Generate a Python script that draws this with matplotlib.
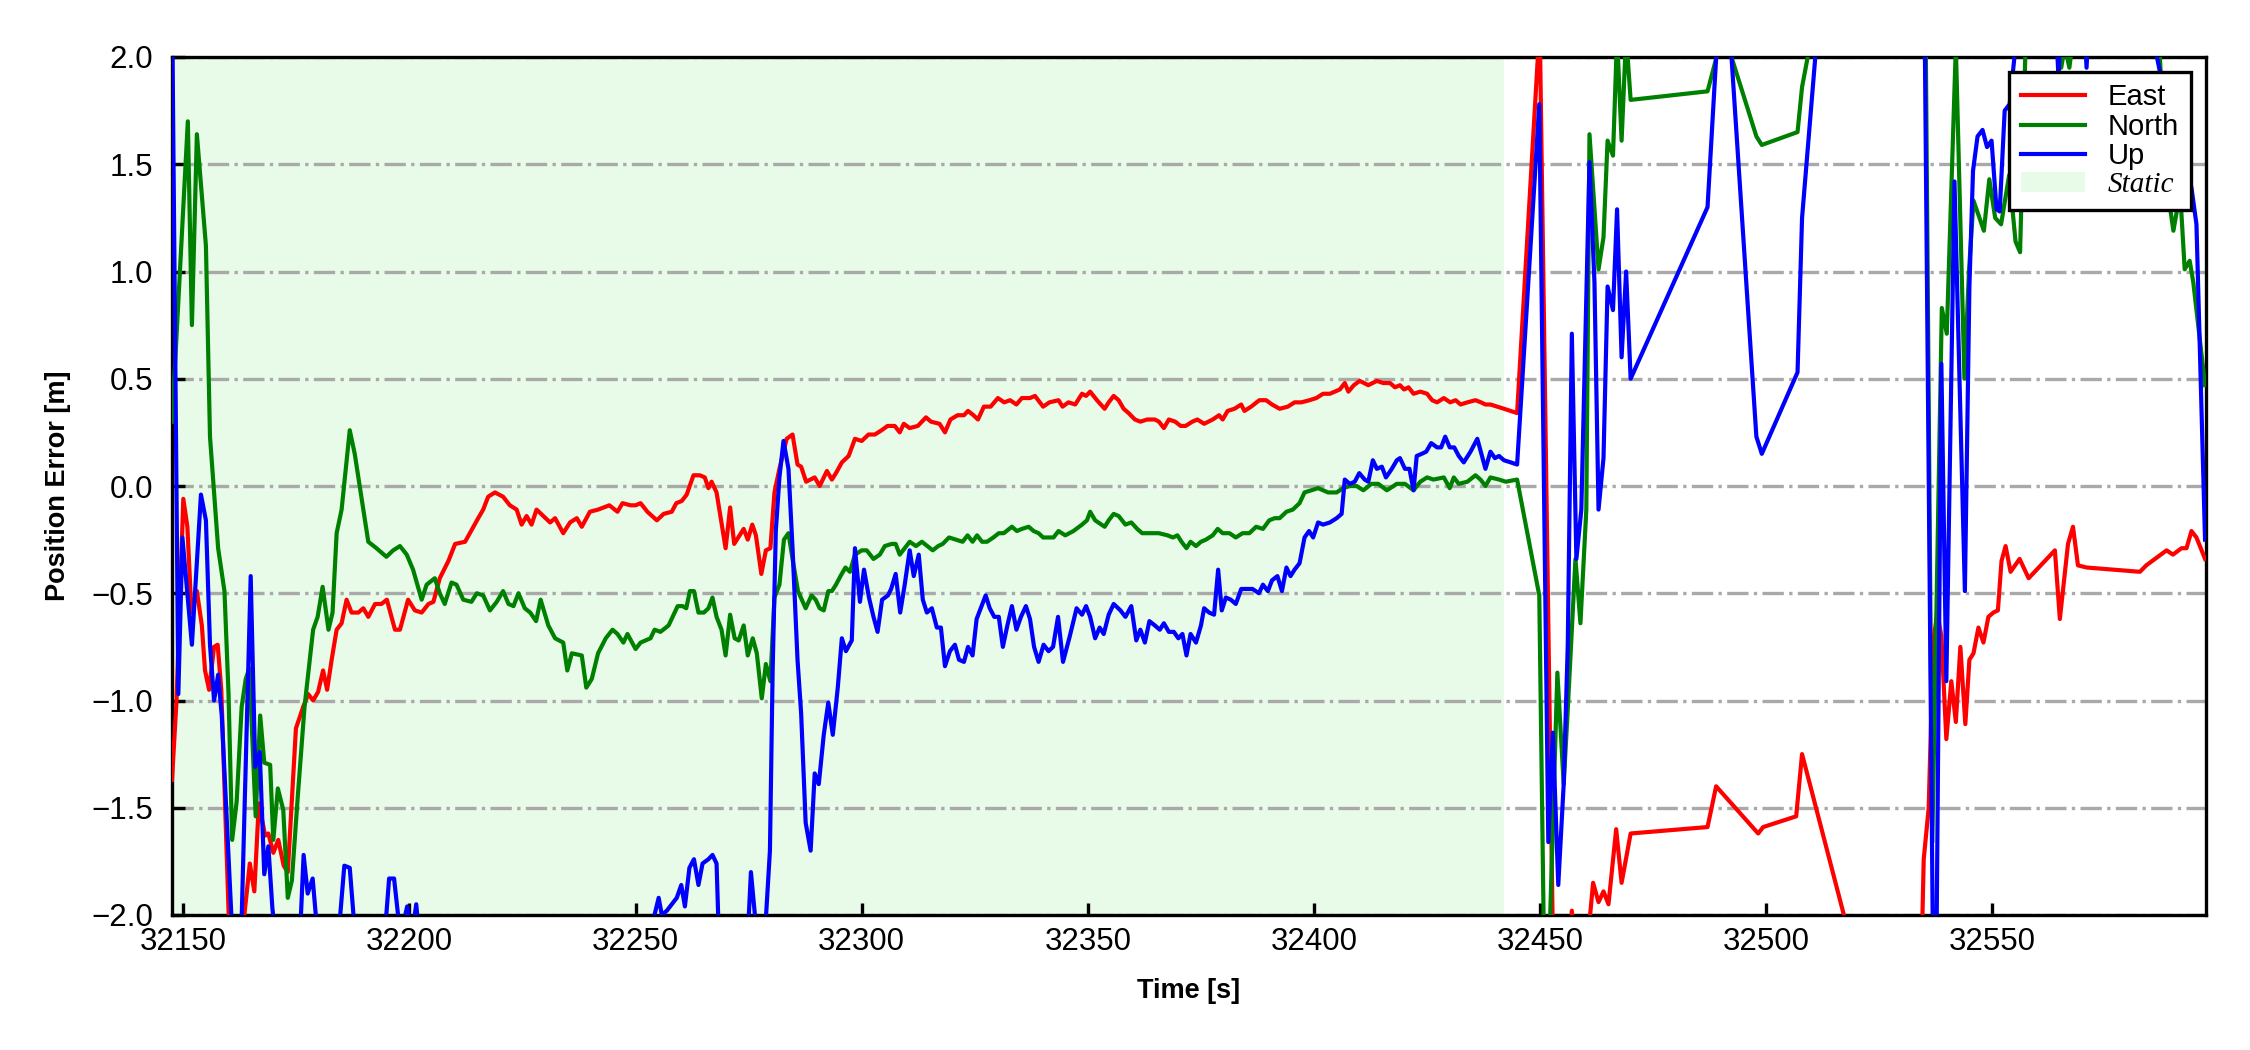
import matplotlib
matplotlib.use("Agg")
import matplotlib.pyplot as plt
from matplotlib.patches import Patch
from matplotlib.lines import Line2D

plt.rcParams['font.family'] = ['Liberation Sans', 'DejaVu Sans']

# ---------------- data ----------------
t_east = [32147.5, 32148.5, 32150.0, 32150.9, 32151.8, 32153.0, 32154.1, 32154.8, 32155.7, 32156.8,
          32157.6, 32158.4, 32160.5, 32162.5, 32164.7, 32165.7, 32166.7, 32168.1, 32168.8, 32169.9,
          32171.0, 32172.2, 32173.1, 32174.9, 32176.5, 32177.6, 32178.7, 32179.8, 32180.9, 32181.8,
          32182.8, 32183.9, 32185.0, 32186.1, 32187.2, 32188.7, 32189.8, 32190.9, 32192.4, 32193.8,
          32195.0, 32196.8, 32197.9, 32199.7, 32201.2, 32202.7, 32204.2, 32205.3, 32206.7, 32208.6,
          32210.1, 32212.3, 32215.2, 32216.3, 32217.4, 32218.9, 32220.7, 32222.2, 32223.7, 32224.8,
          32225.9, 32227.0, 32228.1, 32229.6, 32231.1, 32232.2, 32234.0, 32235.5, 32237.0, 32238.1,
          32239.9, 32241.7, 32244.2, 32246.0, 32247.1, 32248.9, 32250.0, 32251.1, 32252.6, 32254.7,
          32256.2, 32258.0, 32259.0, 32260.2, 32261.3, 32262.8, 32264.2, 32265.3, 32266.1, 32266.8,
          32267.9, 32269.9, 32270.9, 32271.8, 32273.0, 32273.9, 32274.8, 32275.8, 32276.6, 32277.8,
          32278.8, 32279.8, 32280.7, 32281.8, 32283.4, 32284.7, 32285.8, 32286.6, 32287.7, 32289.6,
          32290.7, 32292.3, 32293.4, 32294.3, 32295.6, 32297.1, 32298.5, 32300.0, 32301.5, 32302.9,
          32304.4, 32305.7, 32307.3, 32308.4, 32309.3, 32310.6, 32312.4, 32314.2, 32315.3, 32317.2,
          32318.4, 32319.6, 32321.2, 32322.6, 32323.5, 32324.7, 32325.7, 32327.0, 32328.5, 32330.1,
          32331.5, 32332.8, 32334.2, 32335.4, 32337.2, 32338.3, 32340.1, 32341.5, 32343.5, 32344.4,
          32345.7, 32347.2, 32348.7, 32349.6, 32350.5, 32352.0, 32353.7, 32354.6, 32355.7, 32356.8,
          32357.9, 32359.0, 32360.4, 32361.6, 32363.1, 32364.8, 32365.7, 32366.8, 32367.9, 32369.3,
          32370.5, 32371.6, 32373.1, 32374.2, 32375.7, 32377.6, 32379.0, 32379.8, 32380.9, 32382.4,
          32383.9, 32384.6, 32386.1, 32387.9, 32389.4, 32390.7, 32392.4, 32394.2, 32395.7, 32397.2,
          32399.0, 32400.5, 32402.0, 32403.5, 32404.6, 32405.7, 32406.8, 32407.6, 32408.8, 32410.1,
          32412.0, 32413.9, 32415.3, 32416.8, 32417.9, 32419.0, 32419.9, 32420.9, 32422.0, 32423.5,
          32425.0, 32426.1, 32427.2, 32428.7, 32430.1, 32431.3, 32432.4, 32433.9, 32435.7, 32436.9,
          32437.9, 32439.0, 32440.5, 32442.0, 32444.9, 32449.9, 32453.0, 32455.0, 32457.0, 32458.5,
          32460.6, 32461.7, 32462.9, 32464.0, 32465.1, 32466.8, 32468.0, 32470.0, 32487.0, 32488.9,
          32498.2, 32499.3, 32506.6, 32507.9, 32519.0, 32534.2, 32534.8, 32535.9, 32536.9, 32537.8,
          32538.7, 32539.8, 32540.9, 32541.9, 32542.9, 32544.0, 32544.9, 32545.8, 32546.9, 32548.0,
          32549.1, 32550.2, 32551.2, 32552.0, 32552.9, 32554.0, 32556.0, 32558.0, 32563.8, 32564.9,
          32566.7, 32567.8, 32568.9, 32570.8, 32582.6, 32584.0, 32588.5, 32589.9, 32591.8, 32592.9,
          32594.0, 32595.1, 32597.0]
east = [-1.37, -1.00, -0.06, -0.19, -0.59, -0.49, -0.65, -0.86, -0.95, -0.75,
        -0.74, -0.95, -2.30, -2.20, -1.76, -1.89, -1.48, -1.63, -1.62, -1.71,
        -1.65, -1.77, -1.80, -1.13, -1.03, -0.97, -1.00, -0.96, -0.86, -0.95,
        -0.81, -0.67, -0.64, -0.53, -0.59, -0.59, -0.57, -0.61, -0.55, -0.55,
        -0.53, -0.67, -0.67, -0.53, -0.58, -0.59, -0.55, -0.54, -0.43, -0.35,
        -0.27, -0.26, -0.15, -0.11, -0.05, -0.03, -0.05, -0.09, -0.11, -0.18,
        -0.14, -0.18, -0.11, -0.14, -0.17, -0.15, -0.22, -0.17, -0.15, -0.19,
        -0.12, -0.11, -0.09, -0.12, -0.08, -0.09, -0.09, -0.08, -0.12, -0.16,
        -0.13, -0.12, -0.08, -0.07, -0.04, 0.05, 0.05, 0.04, -0.01, 0.02,
        -0.03, -0.29, -0.10, -0.27, -0.23, -0.20, -0.25, -0.18, -0.23, -0.41,
        -0.30, -0.29, -0.03, 0.08, 0.22, 0.24, 0.10, 0.09, 0.02, 0.04,
        0.00, 0.07, 0.03, 0.06, 0.11, 0.14, 0.22, 0.21, 0.24, 0.24,
        0.26, 0.28, 0.28, 0.25, 0.29, 0.27, 0.28, 0.32, 0.30, 0.29,
        0.25, 0.31, 0.33, 0.33, 0.35, 0.33, 0.31, 0.37, 0.37, 0.41,
        0.39, 0.40, 0.38, 0.41, 0.41, 0.42, 0.37, 0.39, 0.40, 0.37,
        0.39, 0.38, 0.43, 0.42, 0.44, 0.40, 0.36, 0.39, 0.42, 0.40,
        0.36, 0.34, 0.31, 0.30, 0.31, 0.31, 0.30, 0.27, 0.31, 0.30,
        0.28, 0.28, 0.30, 0.31, 0.29, 0.31, 0.33, 0.31, 0.35, 0.36,
        0.38, 0.35, 0.37, 0.40, 0.40, 0.38, 0.36, 0.37, 0.39, 0.39,
        0.40, 0.41, 0.43, 0.43, 0.44, 0.45, 0.48, 0.44, 0.47, 0.49,
        0.47, 0.49, 0.48, 0.48, 0.46, 0.47, 0.45, 0.46, 0.43, 0.44,
        0.43, 0.40, 0.39, 0.41, 0.39, 0.40, 0.38, 0.39, 0.40, 0.39,
        0.38, 0.38, 0.37, 0.36, 0.34, 2.15, -2.40, -2.60, -1.98, -2.40,
        -2.10, -1.85, -1.94, -1.89, -1.95, -1.60, -1.85, -1.62, -1.59, -1.40,
        -1.62, -1.59, -1.54, -1.25, -2.15, -2.30, -1.74, -1.50, -0.73, -0.59,
        -0.70, -1.18, -0.91, -1.10, -0.75, -1.11, -0.81, -0.78, -0.66, -0.73,
        -0.61, -0.59, -0.58, -0.35, -0.28, -0.40, -0.34, -0.43, -0.30, -0.62,
        -0.27, -0.19, -0.37, -0.38, -0.40, -0.37, -0.30, -0.32, -0.29, -0.29,
        -0.21, -0.24, -0.34]

t_north = [32147.5, 32151.0, 32151.9, 32153.0, 32155.0, 32155.9, 32157.7, 32159.1, 32160.0, 32160.8,
           32161.8, 32162.9, 32163.8, 32164.6, 32166.0, 32167.0, 32167.9, 32169.2, 32169.9, 32170.9,
           32172.1, 32173.1, 32174.0, 32175.3, 32176.8, 32178.7, 32179.7, 32180.8, 32182.1, 32183.0,
           32183.9, 32185.0, 32186.8, 32187.9, 32190.9, 32192.7, 32194.9, 32196.4, 32197.9, 32199.4,
           32200.8, 32202.7, 32203.8, 32205.6, 32206.7, 32207.8, 32209.3, 32210.4, 32211.9, 32213.7,
           32214.9, 32216.3, 32217.8, 32219.3, 32220.7, 32221.9, 32223.0, 32224.1, 32225.5, 32226.7,
           32228.0, 32229.0, 32230.7, 32232.2, 32234.0, 32234.9, 32235.9, 32238.1, 32239.1, 32240.3,
           32241.7, 32243.4, 32244.9, 32246.0, 32247.3, 32248.2, 32250.0, 32251.1, 32253.3, 32254.2,
           32255.5, 32257.3, 32258.2, 32259.3, 32260.4, 32261.2, 32262.0, 32262.9, 32263.9, 32265.1,
           32266.1, 32267.0, 32267.9, 32269.0, 32269.9, 32270.9, 32271.9, 32272.8, 32273.9, 32274.8,
           32275.9, 32276.8, 32277.9, 32278.8, 32279.8, 32280.7, 32281.8, 32282.8, 32283.8, 32284.7,
           32285.9, 32287.6, 32288.9, 32289.8, 32290.7, 32291.6, 32292.6, 32293.4, 32294.3, 32295.3,
           32296.4, 32297.4, 32298.5, 32300.0, 32301.1, 32302.6, 32304.0, 32305.1, 32306.6, 32307.5,
           32308.4, 32309.5, 32310.6, 32312.0, 32313.3, 32314.5, 32315.7, 32316.9, 32317.9, 32319.3,
           32320.8, 32322.3, 32323.4, 32324.5, 32325.5, 32326.6, 32327.7, 32329.1, 32330.3, 32331.4,
           32333.2, 32334.3, 32335.4, 32336.9, 32338.0, 32339.1, 32340.1, 32342.4, 32343.5, 32345.0,
           32346.8, 32348.7, 32349.8, 32350.5, 32351.6, 32353.7, 32354.6, 32355.7, 32356.8, 32358.3,
           32359.6, 32360.9, 32362.0, 32363.5, 32365.7, 32367.6, 32368.8, 32369.8, 32370.7, 32371.8,
           32372.7, 32373.9, 32375.0, 32376.1, 32377.6, 32378.7, 32379.8, 32381.3, 32382.7, 32384.2,
           32385.7, 32387.2, 32388.7, 32390.1, 32391.3, 32392.4, 32393.9, 32395.3, 32396.8, 32397.9,
           32399.4, 32400.9, 32402.0, 32403.1, 32405.0, 32406.4, 32407.9, 32409.4, 32410.9, 32412.7,
           32414.2, 32416.1, 32418.3, 32420.1, 32422.0, 32423.5, 32425.0, 32426.4, 32428.7, 32430.0,
           32430.9, 32432.0, 32433.9, 32435.7, 32436.8, 32437.9, 32439.0, 32440.9, 32442.4, 32444.9,
           32449.8, 32451.0, 32451.8, 32453.8, 32455.2, 32456.1, 32457.8, 32458.9, 32460.2, 32460.9,
           32462.9, 32464.0, 32464.9, 32466.1, 32467.0, 32468.0, 32469.0, 32470.0, 32487.0, 32490.5,
           32497.8, 32499.0, 32506.9, 32507.9, 32510.5, 32535.2, 32536.7, 32538.8, 32539.9, 32541.9,
           32543.8, 32544.8, 32545.8, 32546.8, 32548.1, 32549.3, 32550.6, 32551.9, 32553.7, 32555.1,
           32556.1, 32557.5, 32564.0, 32565.2, 32566.0, 32567.0, 32568.5, 32586.5, 32588.5, 32590.0,
           32591.5, 32592.5, 32593.6, 32594.4, 32597.0]
north = [0.30, 1.70, 0.75, 1.64, 1.12, 0.23, -0.29, -0.49, -0.97, -1.65,
         -1.47, -1.03, -0.90, -0.85, -1.54, -1.07, -1.29, -1.30, -1.65, -1.41,
         -1.51, -1.92, -1.84, -1.45, -1.03, -0.67, -0.61, -0.47, -0.67, -0.59,
         -0.22, -0.11, 0.26, 0.15, -0.26, -0.29, -0.33, -0.30, -0.28, -0.32,
         -0.39, -0.53, -0.46, -0.43, -0.50, -0.55, -0.45, -0.46, -0.53, -0.54,
         -0.50, -0.51, -0.58, -0.54, -0.49, -0.55, -0.56, -0.50, -0.57, -0.59,
         -0.63, -0.53, -0.65, -0.71, -0.73, -0.86, -0.78, -0.79, -0.94, -0.90,
         -0.78, -0.71, -0.67, -0.69, -0.73, -0.69, -0.76, -0.73, -0.71, -0.67,
         -0.68, -0.65, -0.61, -0.56, -0.56, -0.57, -0.49, -0.49, -0.59, -0.59,
         -0.57, -0.52, -0.61, -0.67, -0.79, -0.60, -0.71, -0.72, -0.65, -0.79,
         -0.71, -0.78, -0.99, -0.83, -0.91, -0.52, -0.46, -0.25, -0.22, -0.34,
         -0.49, -0.57, -0.51, -0.53, -0.57, -0.58, -0.49, -0.49, -0.46, -0.42,
         -0.38, -0.40, -0.32, -0.30, -0.30, -0.34, -0.32, -0.28, -0.27, -0.27,
         -0.32, -0.29, -0.26, -0.28, -0.26, -0.28, -0.30, -0.28, -0.27, -0.24,
         -0.25, -0.26, -0.23, -0.26, -0.23, -0.26, -0.26, -0.24, -0.22, -0.22,
         -0.19, -0.21, -0.20, -0.19, -0.21, -0.22, -0.24, -0.24, -0.21, -0.23,
         -0.21, -0.18, -0.16, -0.12, -0.16, -0.19, -0.16, -0.13, -0.14, -0.18,
         -0.17, -0.20, -0.22, -0.22, -0.22, -0.23, -0.24, -0.23, -0.26, -0.29,
         -0.26, -0.28, -0.26, -0.25, -0.23, -0.20, -0.22, -0.22, -0.24, -0.22,
         -0.22, -0.19, -0.20, -0.16, -0.15, -0.15, -0.12, -0.11, -0.08, -0.03,
         -0.02, -0.01, -0.02, -0.03, -0.03, -0.01, 0.00, 0.00, -0.02, 0.01,
         0.01, -0.02, 0.01, 0.01, -0.02, 0.02, 0.04, 0.03, 0.04, -0.01,
         0.04, 0.01, 0.02, 0.05, 0.03, 0.00, 0.04, 0.03, 0.02, 0.03,
         -0.51, -2.40, -2.30, -0.87, -1.39, -1.04, -0.34, -0.64, -0.11, 1.64,
         1.01, 1.16, 1.61, 1.54, 2.10, 1.61, 2.10, 1.80, 1.84, 2.12,
         1.63, 1.59, 1.65, 1.86, 2.15, 2.20, -1.66, 0.83, 0.71, 2.05,
         0.50, 1.00, 1.33, 1.27, 1.19, 1.43, 1.25, 1.22, 1.45, 1.14,
         1.09, 2.20, 2.20, 1.95, 2.05, 1.95, 2.20, 2.20, 1.41, 1.19,
         1.37, 1.01, 1.05, 0.95, 0.47]

t_up = [32147.5, 32148.9, 32149.8, 32151.9, 32153.9, 32155.0, 32155.9, 32156.8, 32157.7, 32158.5,
        32161.3, 32162.8, 32164.9, 32165.9, 32166.9, 32167.9, 32168.8, 32169.7, 32171.5, 32175.8,
        32176.6, 32177.5, 32178.6, 32179.7, 32182.0, 32184.5, 32185.6, 32186.8, 32188.0, 32191.0,
        32194.7, 32195.5, 32196.6, 32198.0, 32199.5, 32200.5, 32201.5, 32202.6, 32228.0, 32253.6,
        32255.1, 32255.8, 32256.9, 32258.0, 32259.1, 32260.1, 32260.9, 32261.9, 32262.9, 32263.9,
        32264.8, 32266.1, 32267.0, 32267.9, 32268.4, 32271.0, 32274.8, 32275.5, 32276.6, 32278.0,
        32279.7, 32280.3, 32281.0, 32281.8, 32282.7, 32283.8, 32284.7, 32285.8, 32286.6, 32287.6,
        32288.7, 32289.6, 32290.5, 32291.6, 32292.6, 32293.6, 32294.7, 32295.6, 32296.5, 32297.8,
        32298.5, 32299.6, 32300.5, 32301.6, 32302.6, 32303.5, 32304.5, 32305.8, 32306.5, 32307.5,
        32308.5, 32309.5, 32310.6, 32311.5, 32312.6, 32313.5, 32314.4, 32315.5, 32316.6, 32317.5,
        32318.4, 32319.5, 32320.6, 32321.5, 32322.6, 32323.5, 32324.5, 32325.4, 32326.3, 32327.4,
        32328.3, 32329.3, 32330.3, 32331.2, 32332.2, 32333.2, 32334.2, 32335.2, 32336.3, 32337.2,
        32338.1, 32339.1, 32340.2, 32341.3, 32342.3, 32343.4, 32344.5, 32346.0, 32347.5, 32348.7,
        32349.6, 32350.5, 32351.6, 32352.6, 32353.5, 32354.6, 32355.7, 32357.2, 32358.3, 32359.6,
        32360.7, 32361.6, 32362.6, 32363.6, 32364.8, 32365.9, 32366.8, 32367.9, 32369.0, 32370.0,
        32370.9, 32371.8, 32372.7, 32373.9, 32375.0, 32375.7, 32376.8, 32377.9, 32378.8, 32379.6,
        32380.5, 32381.6, 32382.7, 32383.9, 32385.0, 32386.4, 32387.8, 32388.7, 32389.8, 32390.7,
        32391.9, 32392.9, 32393.9, 32394.8, 32395.7, 32396.8, 32397.9, 32398.9, 32399.8, 32400.9,
        32402.0, 32403.5, 32405.0, 32406.1, 32406.8, 32407.9, 32409.0, 32410.0, 32411.2, 32412.0,
        32413.0, 32413.9, 32415.0, 32415.9, 32417.2, 32418.3, 32419.0, 32420.1, 32421.1, 32422.0,
        32422.7, 32423.8, 32424.8, 32425.9, 32427.2, 32428.1, 32429.0, 32430.0, 32431.0, 32432.0,
        32433.1, 32434.6, 32436.1, 32437.0, 32437.9, 32439.0, 32440.0, 32440.9, 32442.0, 32443.5,
        32444.9, 32449.8, 32451.8, 32452.8, 32454.0, 32455.2, 32456.1, 32457.0, 32458.0, 32459.1,
        32460.9, 32462.0, 32462.9, 32464.0, 32464.9, 32466.1, 32467.0, 32468.0, 32469.0, 32470.0,
        32487.0, 32490.5, 32497.8, 32499.0, 32506.9, 32507.9, 32512.0, 32534.9, 32536.9, 32537.6,
        32538.7, 32539.8, 32541.6, 32543.9, 32544.9, 32545.7, 32546.7, 32547.8, 32548.8, 32549.8,
        32550.9, 32551.6, 32552.7, 32553.8, 32556.3, 32563.5, 32564.6, 32565.5, 32570.0, 32570.8,
        32571.6, 32583.5, 32587.7, 32590.0, 32592.0, 32594.0, 32595.1, 32597.0]
up = [2.30, -0.97, -0.24, -0.74, -0.04, -0.16, -0.74, -1.00, -0.88, -1.07,
      -2.30, -2.10, -0.42, -1.31, -1.24, -1.81, -1.68, -1.97, -2.30, -2.10,
      -1.72, -1.90, -1.83, -2.10, -2.30, -2.05, -1.77, -1.78, -2.10, -2.30,
      -2.05, -1.83, -1.83, -2.10, -1.96, -2.10, -1.95, -2.20, -2.40, -2.05,
      -1.92, -2.00, -1.98, -1.95, -1.92, -1.86, -1.96, -1.78, -1.74, -1.86,
      -1.76, -1.74, -1.72, -1.76, -2.10, -2.30, -2.10, -1.80, -2.05, -2.30,
      -1.70, -0.86, -0.21, 0.04, 0.21, 0.08, -0.29, -0.81, -1.06, -1.57,
      -1.70, -1.34, -1.39, -1.16, -1.01, -1.16, -0.94, -0.71, -0.77, -0.72,
      -0.29, -0.54, -0.39, -0.52, -0.61, -0.68, -0.53, -0.51, -0.48, -0.41,
      -0.59, -0.46, -0.30, -0.42, -0.32, -0.53, -0.59, -0.57, -0.66, -0.66,
      -0.84, -0.77, -0.74, -0.81, -0.82, -0.75, -0.79, -0.62, -0.57, -0.51,
      -0.57, -0.61, -0.61, -0.75, -0.65, -0.56, -0.67, -0.61, -0.56, -0.62,
      -0.75, -0.82, -0.74, -0.77, -0.75, -0.61, -0.82, -0.70, -0.57, -0.60,
      -0.56, -0.61, -0.71, -0.66, -0.69, -0.60, -0.55, -0.58, -0.61, -0.56,
      -0.72, -0.67, -0.73, -0.63, -0.65, -0.67, -0.64, -0.68, -0.68, -0.71,
      -0.69, -0.79, -0.69, -0.73, -0.65, -0.57, -0.59, -0.60, -0.39, -0.58,
      -0.52, -0.53, -0.55, -0.48, -0.48, -0.48, -0.50, -0.46, -0.49, -0.44,
      -0.42, -0.49, -0.38, -0.42, -0.39, -0.36, -0.24, -0.21, -0.24, -0.17,
      -0.18, -0.17, -0.15, -0.13, 0.03, 0.01, 0.02, 0.06, 0.03, 0.02,
      0.12, 0.08, 0.09, 0.04, 0.08, 0.12, 0.13, 0.08, 0.08, -0.02,
      0.14, 0.15, 0.16, 0.20, 0.18, 0.18, 0.23, 0.18, 0.18, 0.14,
      0.11, 0.16, 0.22, 0.15, 0.08, 0.16, 0.13, 0.14, 0.12, 0.11,
      0.10, 1.78, -1.66, -1.15, -1.86, -1.39, -0.74, 0.71, -0.34, -0.11,
      1.51, 0.95, -0.11, 0.13, 0.93, 0.82, 1.29, 0.60, 1.00, 0.50,
      1.30, 2.58, 0.23, 0.15, 0.53, 1.25, 2.30, 2.40, -2.30, -2.20,
      0.57, -0.91, 1.42, -0.49, 0.93, 1.47, 1.63, 1.66, 1.58, 1.61,
      1.29, 1.28, 1.75, 1.78, 2.30, 2.40, 1.90, 2.40, 2.30, 1.95,
      2.30, 2.30, 1.86, 1.70, 1.55, 1.39, 1.22, -0.25]

static_end = 32442.0
x_range = (32147.5, 32597.1)
y_range = (-2.0, 2.0)
x_ticks = [32150, 32200, 32250, 32300, 32350, 32400, 32450, 32500, 32550]
y_ticks = [-2.0, -1.5, -1.0, -0.5, 0.0, 0.5, 1.0, 1.5, 2.0]

# ---------------- figure ----------------
fig = plt.figure(figsize=(7.5, 3.5), dpi=300)
ax = fig.add_axes([172 / 2250, 1 - 915 / 1050, (2205.5 - 172) / 2250, (915 - 57) / 1050])

static_color = 'lightgreen'
ax.axvspan(x_range[0], static_end, color=static_color, alpha=0.2, lw=0, zorder=0)

ax.yaxis.grid(True, linestyle='-.', color='darkgray', linewidth=0.8, zorder=1)
ax.set_axisbelow(True)

lw = 1.0
ax.plot(t_east, east, color='red', lw=lw, zorder=3)
ax.plot(t_north, north, color='green', lw=lw, zorder=3)
ax.plot(t_up, up, color='blue', lw=lw, zorder=3)

ax.set_xlim(*x_range)
ax.set_ylim(*y_range)
ax.set_xticks(x_ticks)
ax.set_yticks(y_ticks)
ax.set_yticklabels([f"{v:.1f}".replace('-', '\u2212') for v in y_ticks])
ax.tick_params(direction='in', length=3, width=0.8, labelsize=7.5)
ax.tick_params(axis='x', pad=3)
ax.tick_params(axis='y', pad=4.5)

for s in ax.spines.values():
    s.set_linewidth(0.8)
    s.set_color('black')

ax.set_xlabel('Time [s]', fontsize=6.5, fontweight='bold', labelpad=5)
ax.set_ylabel('Position Error [m]', fontsize=6.5, fontweight='bold', labelpad=5)

handles = [Line2D([], [], color='red', lw=lw),
           Line2D([], [], color='green', lw=lw),
           Line2D([], [], color='blue', lw=lw),
           Patch(facecolor=static_color, alpha=0.2, edgecolor='none')]
leg = ax.legend(handles, ['East', 'North', 'Up', 'Static'], loc='upper right',
                fontsize=7, frameon=True, fancybox=False, framealpha=1,
                edgecolor='black', labelspacing=0.05, handlelength=2.2,
                borderaxespad=0.5)
leg.get_frame().set_linewidth(0.8)
leg.set_zorder(5)
st = leg.get_texts()[3]
st.set_fontfamily(['Liberation Serif', 'DejaVu Serif'])
st.set_fontstyle('italic')

fig.savefig('out.png', dpi=300)
